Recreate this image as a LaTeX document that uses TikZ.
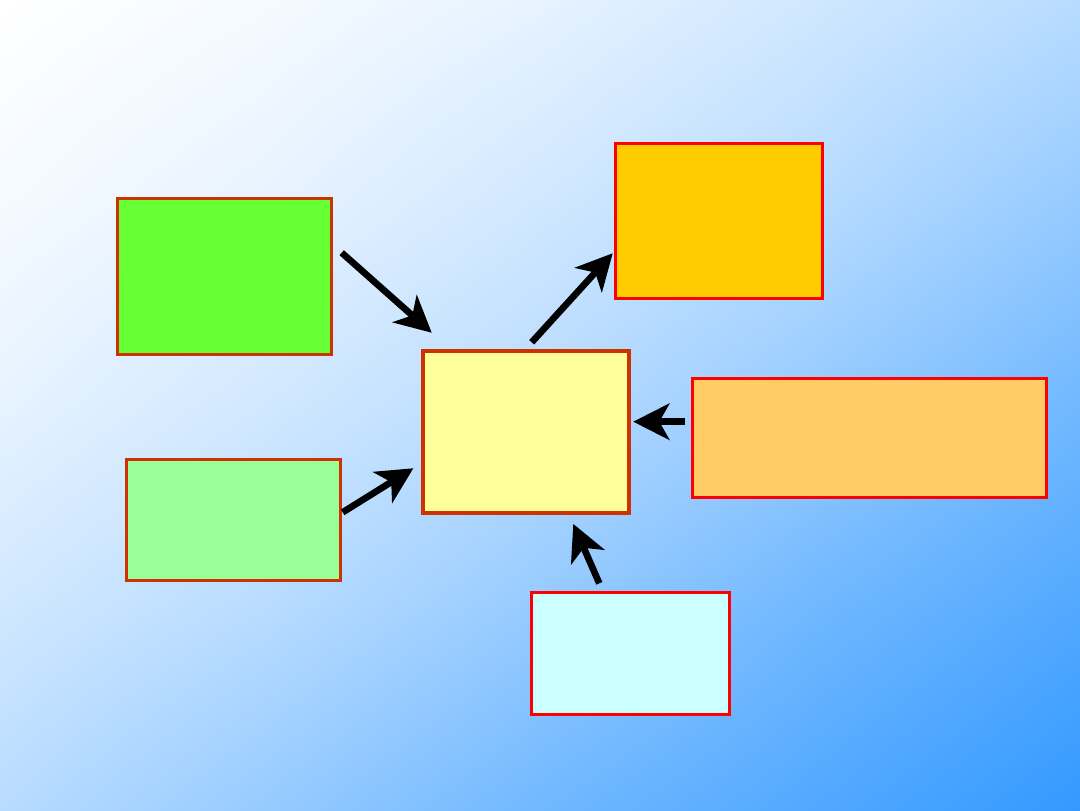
\documentclass[tikz,border=0pt]{standalone}
\usetikzlibrary{arrows.meta,shadings}
\definecolor{bgblue}{HTML}{3399FF}
\definecolor{darkred}{HTML}{CC3300}
\definecolor{cgreen}{HTML}{66FF33}
\definecolor{clgreen}{HTML}{99FF99}
\definecolor{cyellow}{HTML}{FFFF99}
\definecolor{corange}{HTML}{FFCC00}
\definecolor{clorange}{HTML}{FFCC66}
\definecolor{ccyan}{HTML}{CCFFFF}
\colorlet{bgc0}{white}
\colorlet{bgc1}{bgblue!5!white}
\colorlet{bgc2}{bgblue!12!white}
\colorlet{bgc3}{bgblue!23!white}
\colorlet{bgc4}{bgblue!35!white}
\colorlet{bgc5}{bgblue!52!white}
\colorlet{bgc6}{bgblue!70!white}
\colorlet{bgc7}{bgblue!85!white}
\colorlet{bgc8}{bgblue}
\tikzset{
  box/.style={rectangle, inner sep=0pt, outer sep=0pt, line width=2.25pt, anchor=north west},
  arr/.style={line width=5pt, -{Stealth[length=27.5pt, width=28pt, inset=8pt, line width=0pt]}},
}
\begin{document}
\begin{tikzpicture}[x=0.75pt, y=-0.75pt]
\useasboundingbox (0,0) rectangle (1080,810);
% background gradient, in a 4x4 grid of bilinear patches
\foreach \i in {0,...,3}{
  \foreach \j in {0,...,3}{
    \pgfmathtruncatemacro{\ul}{\i+\j}
    \pgfmathtruncatemacro{\ur}{\i+\j+1}
    \pgfmathtruncatemacro{\lr}{\i+\j+2}
    \pgfmathsetmacro{\xa}{270*\i}
    \pgfmathsetmacro{\ya}{202.5*\j}
    \pgfmathsetmacro{\xb}{270*(\i+1)+1.5}
    \pgfmathsetmacro{\yb}{202.5*(\j+1)+1.5}
    \shade[upper left=bgc\ul, upper right=bgc\ur, lower left=bgc\ur, lower right=bgc\lr]
      (\xa,\ya) rectangle (\xb,\yb);
  }
}
% boxes
\node[box, draw=darkred, fill=cgreen, minimum width=160.4pt, minimum height=117pt] (green) at (117.5,198.7) {};
\node[box, draw=darkred, fill=clgreen, minimum width=160.3pt, minimum height=90.5pt] (lgreen) at (126.5,459.5) {};
\node[box, draw=darkred, fill=cyellow, line width=3pt, minimum width=154.1pt, minimum height=121.3pt] (yellow) at (423.3,351) {};
\node[box, draw=red, fill=corange, minimum width=155.3pt, minimum height=116.3pt] (orange) at (615.5,143.5) {};
\node[box, draw=red, fill=clorange, minimum width=265.8pt, minimum height=89.6pt] (lorange) at (692,378.5) {};
\node[box, draw=red, fill=ccyan, minimum width=148.5pt, minimum height=91.5pt] (cyan) at (531,592) {};
% arrow end points
\coordinate (a1s) at (341.7,252.7);
\coordinate (a1e) at (431.7,332.7);
\coordinate (a2s) at (531.7,342.3);
\coordinate (a2e) at (612.7,253.3);
\coordinate (a3s) at (342.7,512.3);
\coordinate (a3e) at (413.3,468.3);
\coordinate (a4s) at (684.7,421.7);
\coordinate (a4e) at (633.3,421.7);
\coordinate (a5s) at (599.3,583.3);
\coordinate (a5e) at (573.3,524);
\draw[arr] (a1s) -- (a1e);
\draw[arr] (a2s) -- (a2e);
\draw[arr] (a3s) -- (a3e);
\draw[arr] (a4s) -- (a4e);
\draw[arr] (a5s) -- (a5e);
\end{tikzpicture}
\end{document}
